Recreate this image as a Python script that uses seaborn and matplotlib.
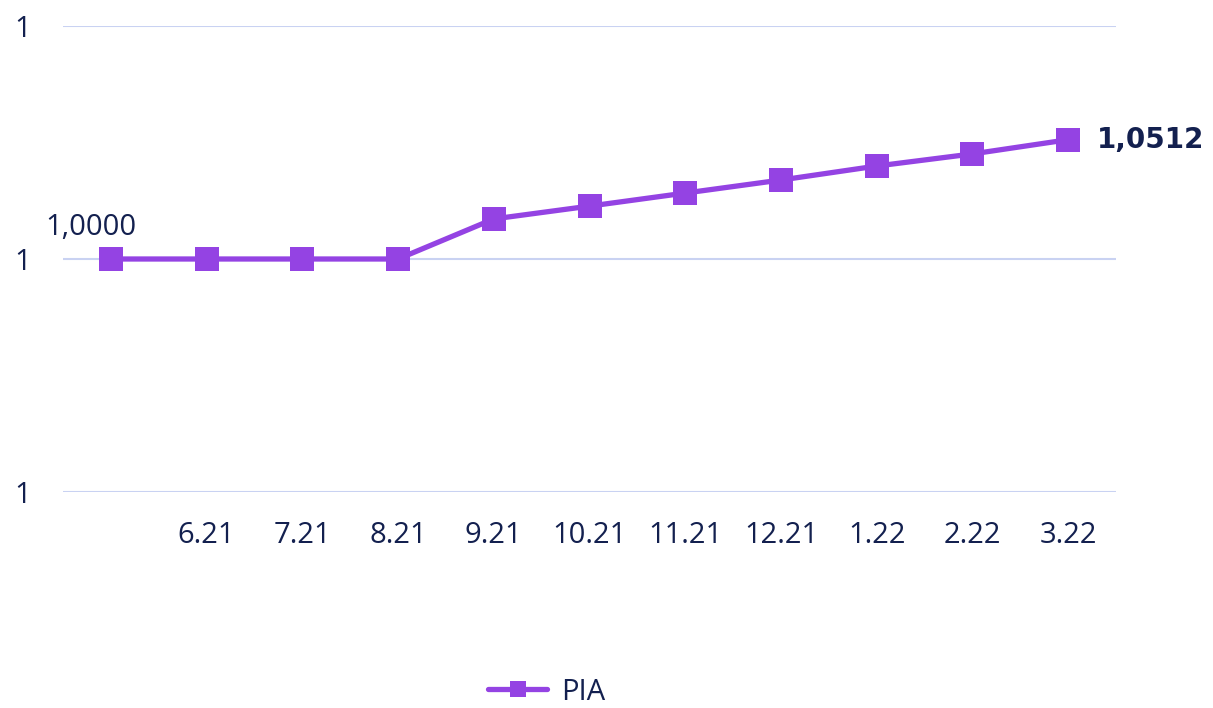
import numpy as np
import pandas as pd
import seaborn as sns
import matplotlib.pyplot as plt
from matplotlib.ticker import FuncFormatter

# Datos
meses = ["", "6.21", "7.21", "8.21", "9.21", "10.21", "11.21", "12.21", "1.22", "2.22", "3.22"]
pia = [1.0000, 1.0000, 1.0000, 1.0000, 1.0172, 1.0227, 1.0283, 1.0339, 1.0399, 1.0451, 1.0512]
y_ticks = [0.9, 1.0, 1.1]

morado = "#9443e3"
azul = "#13204f"
rejilla = "#c9d2f2"

sns.set_theme(style="white")
plt.rcParams["font.family"] = ["Open Sans", "DejaVu Sans"]

df = pd.DataFrame({"pos": np.arange(len(meses)), "PIA": pia})

fig = plt.figure(figsize=(12.13, 7.08), dpi=100)
ax = fig.add_axes([63 / 1213, 1 - 492 / 708, (1116 - 63) / 1213, (492 - 26) / 708])

sns.lineplot(data=df, x="pos", y="PIA", ax=ax, color=morado, linewidth=3.8,
             marker="s", markersize=17, markeredgewidth=0, label="PIA",
             solid_capstyle="round")

ax.set_xlim(-0.5, len(meses) - 0.5)
ax.set_ylim(0.9, 1.1)
ax.set_yticks(y_ticks)
ax.yaxis.set_major_formatter(FuncFormatter(lambda v, p: f"{v:.0f}"))
ax.set_xticks(df["pos"])
ax.set_xticklabels(meses)
ax.set_xlabel("")
ax.set_ylabel("")

for s in ax.spines.values():
    s.set_visible(False)
ax.grid(axis="y", color=rejilla, linewidth=1.5)
ax.grid(axis="x", visible=False)
ax.tick_params(axis="both", length=0, labelsize=21, labelcolor=azul)
ax.tick_params(axis="y", pad=23)
ax.tick_params(axis="x", pad=21)

# Etiquetas de primer y ultimo valor
ax.annotate(f"{pia[0]:.4f}".replace(".", ","), (0, pia[0]), xytext=(-20, 17),
            textcoords="offset pixels", ha="center", va="bottom",
            fontsize=21, color=azul)
ax.annotate(f"{pia[-1]:.4f}".replace(".", ","), (len(pia) - 1, pia[-1]), xytext=(29, 0),
            textcoords="offset pixels", ha="left", va="center",
            fontsize=20, fontweight="bold", color=azul, family="DejaVu Sans")

leg = ax.legend(loc="center", bbox_to_anchor=(547 / 1213, 1 - 692 / 708),
                bbox_transform=fig.transFigure, frameon=False, fontsize=21,
                markerscale=0.67, handlelength=2.0, handletextpad=0.5,
                borderpad=0.1)
for t in leg.get_texts():
    t.set_color(azul)

fig.savefig("out.png", dpi=100)
